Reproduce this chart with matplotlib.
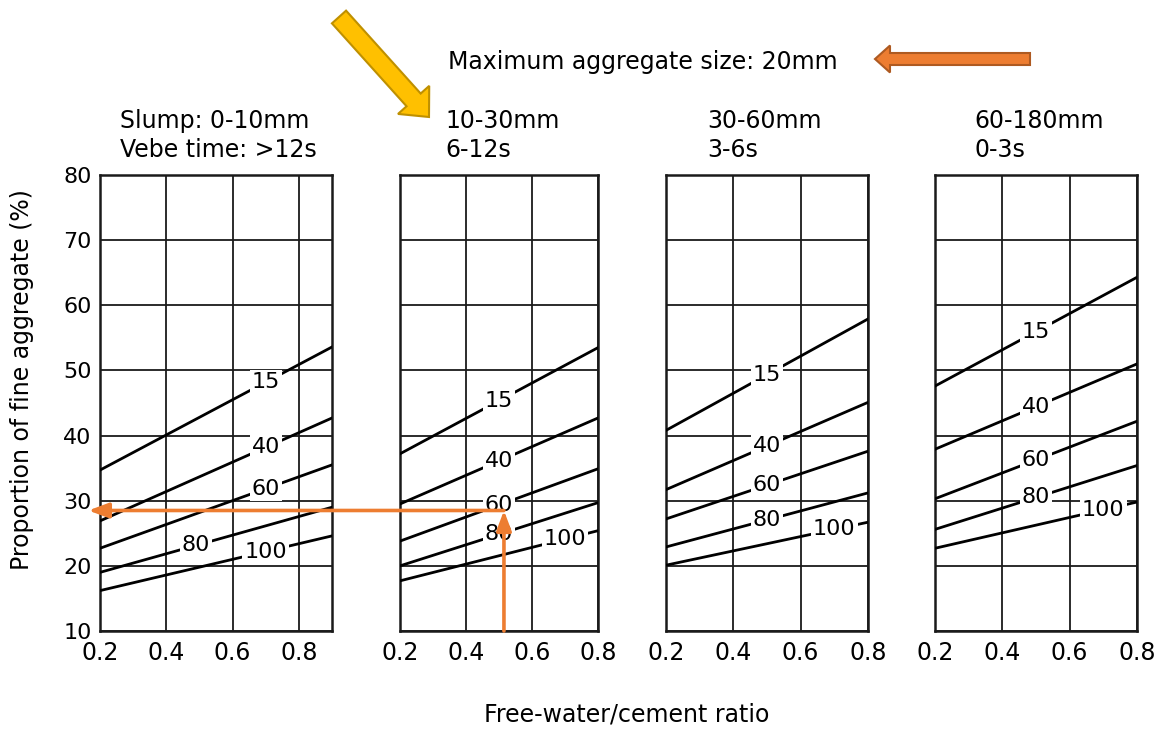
import numpy as np
import matplotlib
matplotlib.use("Agg")
import matplotlib.pyplot as plt
from matplotlib.patches import FancyArrow, ConnectionPatch
from matplotlib.transforms import blended_transform_factory

plt.rcParams['font.family'] = ['DejaVu Sans']

#__________________  DATA  _____________________#

# curves = % of fine aggregate passing 600 um sieve
fines_labels = ['15', '40', '60', '80', '100']

wc_lo = [0.2, 0.2, 0.2, 0.2]
wc_hi = [0.9, 0.8, 0.8, 0.8]

# proportion of fine aggregate (%) at low / high free-water/cement ratio
slump_0_10_lo = [34.7, 26.9, 22.7, 19.0, 16.2]
slump_0_10_hi = [53.6, 42.7, 35.5, 29.0, 24.6]
slump_10_30_lo = [37.2, 29.5, 23.8, 20.0, 17.7]
slump_10_30_hi = [53.5, 42.7, 34.9, 29.7, 25.4]
slump_30_60_lo = [40.8, 31.7, 27.2, 22.9, 20.1]
slump_30_60_hi = [57.9, 45.1, 37.6, 31.2, 26.7]
slump_60_180_lo = [47.6, 37.9, 30.3, 25.6, 22.7]
slump_60_180_hi = [64.3, 51.0, 42.2, 35.4, 29.8]

slump_text = ['Slump: 0-10mm', '10-30mm', '30-60mm', '60-180mm']
vebe_text = ['Vebe time: >12s', '6-12s', '3-6s', '0-3s']

x_ticks = [0.2, 0.4, 0.6, 0.8]
y_ticks = [10, 20, 30, 40, 50, 60, 70, 80]

# worked example read on the chart
wc_example = 0.515
fine_example = 28.5

#__________________  FIGURE PARAMETERS  _____________________#

W, H = 1162, 731
tic_size = 17
lab_size = 16
txt_size = 17
orange = '#ED7D31'

def fx(px):
    return px / W

def fy(py):
    return 1 - py / H

fig = plt.figure(figsize=(W / 100, H / 100), dpi=100)

# axes boxes in pixels: left, right
boxes = [(100, 332), (400, 598), (666, 868), (935, 1137)]
top, bot = 175, 631
label_x = [[0.70, 0.70, 0.70, 0.49, 0.70],
           [0.50, 0.50, 0.50, 0.50, 0.70],
           [0.50, 0.50, 0.50, 0.50, 0.70],
           [0.50, 0.50, 0.50, 0.50, 0.70]]
head_x = [120, 445, 707, 974]

los = [slump_0_10_lo, slump_10_30_lo, slump_30_60_lo, slump_60_180_lo]
his = [slump_0_10_hi, slump_10_30_hi, slump_30_60_hi, slump_60_180_hi]

axes = []
for i in range(4):
    l, r = boxes[i]
    ax = fig.add_axes([fx(l), fy(bot), fx(r - l), (bot - top) / H])
    ax.set_xlim(wc_lo[i], wc_hi[i])
    ax.set_ylim(10, 80)
    ax.set_xticks(x_ticks)
    ax.set_xticklabels(['%.1f' % v for v in x_ticks])
    ax.set_yticks(y_ticks)
    ax.grid(True, color='#1a1a1a', linewidth=1.3)
    ax.set_axisbelow(True)
    for s in ax.spines.values():
        s.set_linewidth(1.8)
        s.set_color('#1a1a1a')
    ax.tick_params(axis='x', length=0, labelsize=tic_size, pad=7)
    ax.tick_params(axis='y', length=0, labelsize=16, pad=6)
    if i > 0:
        ax.set_yticklabels([])

    for j, lab in enumerate(fines_labels):
        xs = [wc_lo[i], wc_hi[i]]
        ys = [los[i][j], his[i][j]]
        ax.plot(xs, ys, color='black', linewidth=2.0, zorder=3)
        xl = label_x[i][j]
        yl = np.interp(xl, xs, ys)
        ax.text(xl, yl, lab, fontsize=lab_size, ha='center', va='center',
                zorder=4, bbox=dict(facecolor='white', edgecolor='none', pad=1.5))

    fig.text(fx(head_x[i]), fy(128), slump_text[i], fontsize=txt_size, va='baseline')
    fig.text(fx(head_x[i]), fy(157), vebe_text[i], fontsize=txt_size, va='baseline')
    axes.append(ax)

fig.text(fx(448), fy(69), 'Maximum aggregate size: 20mm', fontsize=txt_size, va='baseline')
fig.text(fx(627), fy(722), 'Free-water/cement ratio', fontsize=txt_size,
         ha='center', va='baseline')
fig.text(fx(22), fy(380), 'Proportion of fine aggregate (%)', fontsize=txt_size,
         rotation=90, ha='center', va='center')

#__________________  ANNOTATION ARROWS  _____________________#

ax1, ax2 = axes[0], axes[1]
ax2.annotate('', xy=(wc_example, fine_example), xytext=(wc_example, 10),
             arrowprops=dict(arrowstyle='-|>,head_length=1.2,head_width=0.45',
                             color=orange, lw=2.6, shrinkA=0, shrinkB=0),
             annotation_clip=False, zorder=6)
trB = blended_transform_factory(ax1.transAxes, ax1.transData)
con = ConnectionPatch(xyA=(wc_example, fine_example), coordsA=ax2.transData,
                      xyB=(-0.05, fine_example), coordsB=trB,
                      arrowstyle='-|>,head_length=1.2,head_width=0.45',
                      color=orange, lw=2.6, shrinkA=0, shrinkB=0, zorder=6)
fig.add_artist(con)

# big block arrows (inches, pixel based)
yellow = FancyArrow(3.39, (H - 17) / 100, 0.90, -1.00, width=0.19, head_width=0.42,
                    head_length=0.23, length_includes_head=True,
                    facecolor='#FFC000', edgecolor='#BF9000', linewidth=1.5,
                    transform=fig.dpi_scale_trans)
fig.add_artist(yellow)
orange_big = FancyArrow(10.30, (H - 59) / 100, -1.55, 0, width=0.12, head_width=0.27,
                        head_length=0.15, length_includes_head=True,
                        facecolor=orange, edgecolor='#AE5A21', linewidth=1.5,
                        transform=fig.dpi_scale_trans)
fig.add_artist(orange_big)

plt.savefig('out.png', dpi=100)
